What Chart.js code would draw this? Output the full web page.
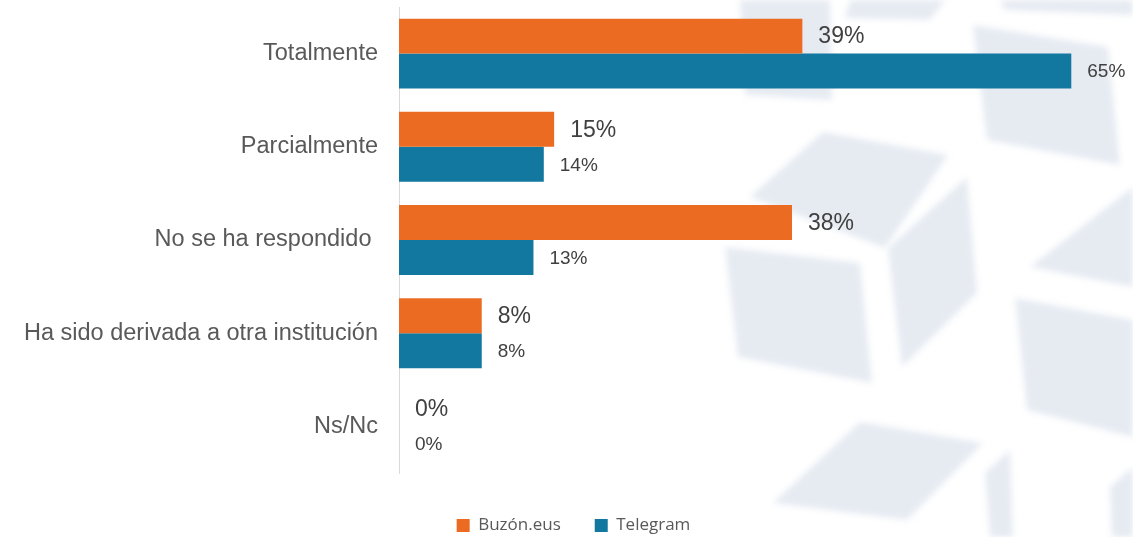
<!DOCTYPE html>
<html>
<head>
<meta charset="utf-8">
<script src="https://cdn.jsdelivr.net/npm/chart.js@4/dist/chart.umd.min.js"></script>
<style>
    html, body { margin: 0; padding: 0; background: #fff; }
    #wrap { width: 1133px; height: 537px; position: relative; }
</style>
</head>
<body>
<div id="wrap"><canvas id="chart"></canvas></div>
<script>
const categories = ['Totalmente', 'Parcialmente', 'No se ha respondido ', 'Ha sido derivada a otra institución', 'Ns/Nc'];
const seriesNames = ['Buzón.eus', 'Telegram'];
const buzonValues = [39, 15, 38, 8, 0];
const telegramValues = [65, 14, 13, 8, 0];

const orange = '#EB6B23';
const blue = '#13789F';

// faint cube watermark behind the plot (decoration only)
const watermark = {
    id: 'watermark',
    beforeDraw(chart) {
        const ctx = chart.ctx;
        const shapes = [
            [[740, 0], [830, 0], [832, 100], [745, 95]],
            [[850, 0], [945, 0], [930, 20], [845, 18]],
            [[973, 25], [1108, 47], [1120, 165], [987, 140]],
            [[823, 132], [948, 155], [885, 248], [750, 197]],
            [[725, 247], [860, 263], [872, 383], [738, 357]],
            [[888, 248], [967, 177], [977, 293], [902, 367]],
            [[1030, 267], [1133, 187], [1133, 287]],
            [[1015, 298], [1133, 320], [1133, 437], [1027, 410]],
            [[860, 422], [983, 443], [907, 520], [773, 503]],
            [[985, 473], [1010, 450], [1013, 537], [990, 537]],
            [[1110, 487], [1133, 467], [1133, 537], [1112, 537]],
            [[1000, 0], [1133, 0], [1133, 15], [1005, 10]]
        ];
        ctx.save();
        ctx.filter = 'blur(3px)';
        ctx.fillStyle = '#E6EBF2';
        shapes.forEach(pts => {
            ctx.beginPath();
            pts.forEach((p, i) => i ? ctx.lineTo(p[0], p[1]) : ctx.moveTo(p[0], p[1]));
            ctx.closePath();
            ctx.fill();
        });
        ctx.restore();
    }
};

// value labels at the end of each bar
const valueLabels = {
    id: 'valueLabels',
    afterDatasetsDraw(chart) {
        const ctx = chart.ctx;
        ctx.save();
        ctx.fillStyle = '#404040';
        ctx.textAlign = 'left';
        ctx.textBaseline = 'middle';
        chart.data.datasets.forEach((ds, di) => {
            const meta = chart.getDatasetMeta(di);
            ctx.font = (di === 0 ? '23px' : '19px') + ' "Liberation Sans", Arial, sans-serif';
            meta.data.forEach((bar, i) => {
                ctx.fillText(ds.data[i] + '%', bar.x + 16, bar.y + 1);
            });
        });
        ctx.restore();
    }
};

new Chart(document.getElementById('chart'), {
    type: 'bar',
    data: {
        labels: categories,
        datasets: [
            { label: seriesNames[0], data: buzonValues, backgroundColor: orange, categoryPercentage: 0.75, barPercentage: 1.0 },
            { label: seriesNames[1], data: telegramValues, backgroundColor: blue, categoryPercentage: 0.75, barPercentage: 1.0 }
        ]
    },
    options: {
        indexAxis: 'y',
        responsive: true,
        maintainAspectRatio: false,
        animation: false,
        layout: { padding: { top: 7, right: 10, bottom: -7, left: 24 } },
        plugins: {
            legend: {
                position: 'bottom',
                labels: {
                    color: '#595959',
                    font: { family: '"Open Sans", sans-serif', size: 17 },
                    boxWidth: 13,
                    boxHeight: 13,
                    padding: 34
                }
            },
            tooltip: { enabled: false }
        },
        scales: {
            x: {
                min: 0,
                max: 70,
                grid: { display: false, drawTicks: false },
                border: { display: false },
                ticks: { display: false },
                afterFit: s => { s.height = 10; }
            },
            y: {
                grid: { display: false, drawTicks: false },
                border: { display: true, color: '#D9D9D9', width: 1 },
                ticks: {
                    color: '#595959',
                    padding: 21,
                    font: { family: '"Liberation Sans", Arial, sans-serif', size: 23.5 }
                },
                afterFit: s => {
                    s.width = 375;
                    s.paddingTop = 0;
                    s.paddingBottom = 0;
                }
            }
        }
    },
    plugins: [watermark, valueLabels]
});
</script>
</body>
</html>
